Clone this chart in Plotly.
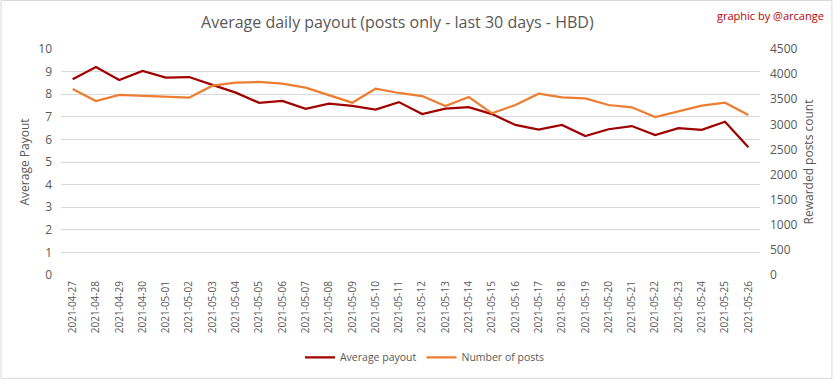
import plotly.graph_objects as go

dates = ["2021-04-27", "2021-04-28", "2021-04-29", "2021-04-30", "2021-05-01", "2021-05-02",
         "2021-05-03", "2021-05-04", "2021-05-05", "2021-05-06", "2021-05-07", "2021-05-08",
         "2021-05-09", "2021-05-10", "2021-05-11", "2021-05-12", "2021-05-13", "2021-05-14",
         "2021-05-15", "2021-05-16", "2021-05-17", "2021-05-18", "2021-05-19", "2021-05-20",
         "2021-05-21", "2021-05-22", "2021-05-23", "2021-05-24", "2021-05-25", "2021-05-26"]

avg_payout = [8.66, 9.20, 8.63, 9.03, 8.73, 8.76, 8.41, 8.07, 7.62, 7.70,
              7.35, 7.58, 7.48, 7.32, 7.65, 7.12, 7.36, 7.43, 7.12, 6.64,
              6.43, 6.64, 6.15, 6.45, 6.59, 6.19, 6.50, 6.42, 6.78, 5.65]

num_posts = [3703, 3464, 3584, 3570, 3550, 3530, 3770, 3830, 3843, 3810,
             3730, 3584, 3431, 3710, 3624, 3564, 3365, 3544, 3219, 3385,
             3610, 3538, 3518, 3385, 3339, 3146, 3265, 3371, 3431, 3186]

left_ticks = list(range(0, 11))
right_ticks = list(range(0, 4501, 500))

grey = "#595959"
font_main = "Open Sans, sans-serif"

fig = go.Figure()
fig.add_trace(go.Scatter(x=dates, y=avg_payout, mode="lines", name="Average payout",
                         line=dict(color="#a00000", width=2.25), yaxis="y"))
fig.add_trace(go.Scatter(x=dates, y=num_posts, mode="lines", name="Number of posts",
                         line=dict(color="#ed7d31", width=2.25), yaxis="y2"))

fig.update_layout(
    width=833, height=379,
    margin=dict(l=61, r=73, t=49, b=104, autoexpand=False),
    paper_bgcolor="white", plot_bgcolor="white",
    title=dict(text="Average daily payout (posts only - last 30 days - HBD)",
               x=0.477, xanchor="center", y=0.94, yanchor="middle",
               font=dict(family=font_main, size=16, color=grey)),
    xaxis=dict(type="category", range=[-0.5, 29.5], tickangle=-90, showgrid=False,
               showline=False, ticks="", automargin=False, ticklabelstandoff=3,
               tickfont=dict(family=font_main, size=10, color=grey)),
    yaxis=dict(range=[0, 10], tickvals=left_ticks, showgrid=True, gridcolor="#d9d9d9",
               gridwidth=1, zeroline=False, ticks="", automargin=False, ticklabelstandoff=8,
               tickfont=dict(family=font_main, size=12, color=grey),
               title=dict(text="Average Payout", font=dict(family=font_main, size=12, color=grey),
                          standoff=6)),
    yaxis2=dict(range=[0, 4500], tickvals=right_ticks, overlaying="y", side="right",
                showgrid=False, zeroline=False, ticks="", automargin=False, ticklabelstandoff=9,
                tickfont=dict(family=font_main, size=12, color=grey),
                title=dict(text="Rewarded posts count", font=dict(family=font_main, size=12, color=grey),
                           standoff=8)),
    legend=dict(orientation="h", x=0.52, xanchor="center", y=-0.3, yanchor="top",
                itemwidth=30, font=dict(family=font_main, size=10.5, color=grey)),
    annotations=[dict(text="graphic by @arcange", xref="paper", yref="paper", x=1.095, y=1.15,
                      xanchor="right", yanchor="middle", showarrow=False,
                      font=dict(family=font_main, size=11, color="#c00000"))],
    shapes=[dict(type="rect", xref="paper", yref="paper", x0=-0.0858, x1=1.1029, y0=-0.4575, y1=1.2146,
                 line=dict(color="#d9d9d9", width=1))],
)

fig.write_html("out.html", config={"displayModeBar": False},
               post_script="document.body.style.margin='0';document.body.style.padding='0';")
